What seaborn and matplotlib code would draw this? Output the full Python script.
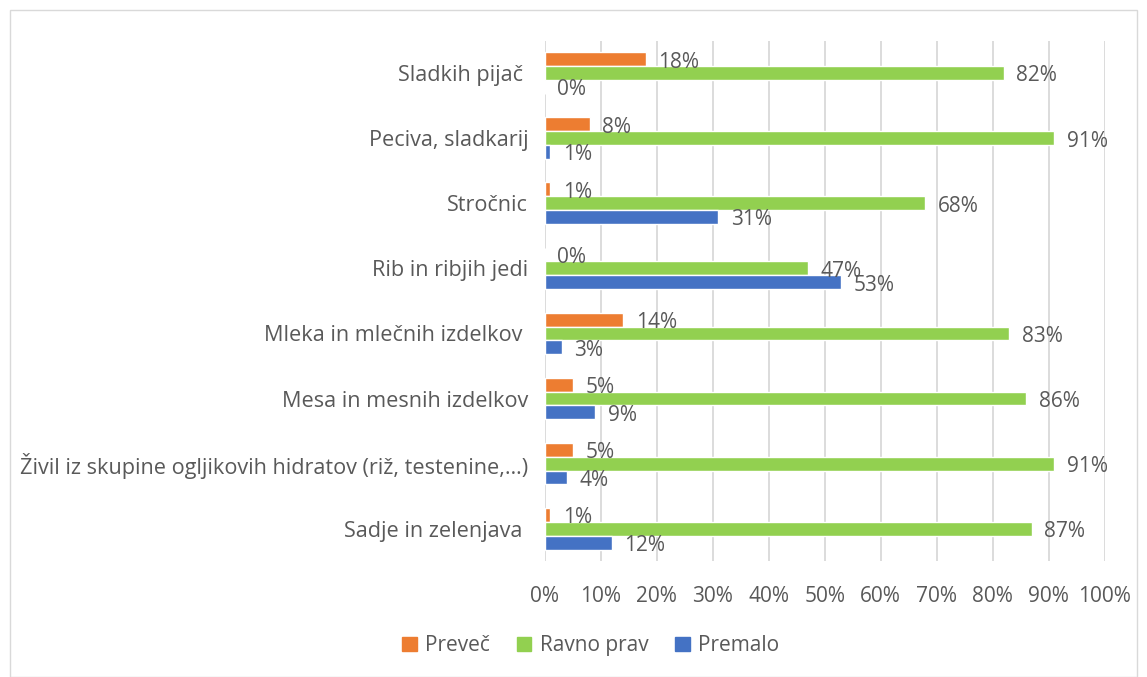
import pandas as pd
import numpy as np
import seaborn as sns
import matplotlib.pyplot as plt
from matplotlib.patches import Rectangle

categories = ['Sladkih pijač ', 'Peciva, sladkarij', 'Stročnic', 'Rib in ribjih jedi',
              'Mleka in mlečnih izdelkov ', 'Mesa in mesnih izdelkov',
              'Živil iz skupine ogljikovih hidratov (riž, testenine,…)', 'Sadje in zelenjava ']
preveč = [18, 8, 1, 0, 14, 5, 5, 1]
ravno_prav = [82, 91, 68, 47, 83, 86, 91, 87]
premalo = [0, 1, 31, 53, 3, 9, 4, 12]
series = ['Preveč', 'Ravno prav', 'Premalo']
colors = ['#ED7D31', '#92D050', '#4472C4']
xticks = [0, 10, 20, 30, 40, 50, 60, 70, 80, 90, 100]

df = pd.DataFrame({'kategorija': categories * 3,
                   'serija': [s for s in series for _ in categories],
                   'vrednost': preveč + ravno_prav + premalo})

sns.set_style('white')
plt.rcParams['font.family'] = ['Open Sans', 'DejaVu Sans']
txt = '#595959'
fs = 15

fig = plt.figure(figsize=(11.47, 6.77), dpi=100)
ax = fig.add_axes([0.475, 0.171, 0.488, 0.769])

sns.barplot(data=df, y='kategorija', x='vrednost', hue='serija', order=categories,
            hue_order=series, palette=colors, orient='h', width=0.64, saturation=1,
            legend=False, ax=ax)

for cont in ax.containers:
    for a in ax.bar_label(cont, fmt='%d%%', padding=9, fontsize=fs, color=txt):
        a.xyann = (9, -2)

ax.set_xlim(0, 100)
ax.set_xticks(xticks)
ax.set_xticklabels([f'{t}%' for t in xticks], fontsize=fs, color=txt)
ax.tick_params(axis='y', labelsize=15.6, labelcolor=txt, length=0, pad=12)
ax.tick_params(axis='x', length=0, pad=18)
ax.xaxis.grid(True, color='#D9D9D9', linewidth=1.3)
ax.set_axisbelow(True)
for s in ax.spines.values():
    s.set_visible(False)
ax.set_xlabel('')
ax.set_ylabel('')

handles = [Rectangle((0, 0), 1, 1, color=c) for c in colors]
fig.legend(handles, series, loc='center', bbox_to_anchor=(0.515, 0.046), ncol=3,
           frameon=False, fontsize=fs, labelcolor=txt, handlelength=0.7, handleheight=0.7,
           columnspacing=1.3, handletextpad=0.4)

fig.patches.append(Rectangle((0.009, 0.0), 0.982, 0.985, transform=fig.transFigure,
                             fill=False, edgecolor='#D9D9D9', linewidth=1))

plt.savefig('out.png', dpi=100)
